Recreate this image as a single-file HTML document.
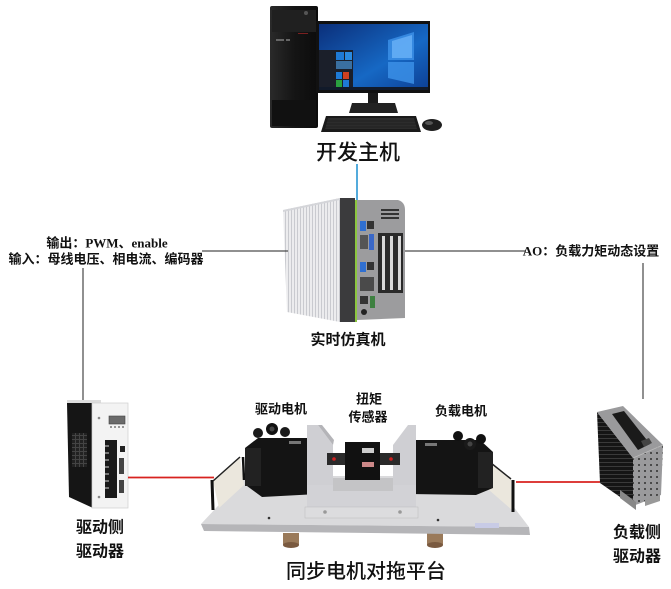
<!DOCTYPE html>
<html><head><meta charset="utf-8"><style>
html,body{margin:0;padding:0;background:#fff;}
svg{display:block;}
.t{font-family:"Liberation Sans","Noto Sans CJK SC",sans-serif;}
.s{font-family:"Liberation Serif","Noto Sans CJK SC",sans-serif;font-weight:700;}
</style></head><body>
<svg width="671" height="589" viewBox="0 0 671 589" xmlns="http://www.w3.org/2000/svg">
<defs>
<linearGradient id="scr" x1="0" y1="0" x2="1" y2="1"><stop offset="0" stop-color="#0b2f7a"/><stop offset="0.6" stop-color="#1668c4"/><stop offset="1" stop-color="#0d3f94"/></linearGradient>
<linearGradient id="tow" x1="0" y1="0" x2="1" y2="0"><stop offset="0" stop-color="#2a2a2a"/><stop offset="0.5" stop-color="#151515"/><stop offset="1" stop-color="#0c0c0c"/></linearGradient>
<pattern id="fin" width="3" height="10" patternUnits="userSpaceOnUse"><rect width="3" height="10" fill="#ececee"/><rect width="1" height="10" fill="#c9cacf"/></pattern>
<pattern id="bfin" width="4" height="4" patternUnits="userSpaceOnUse"><rect width="4" height="4" fill="#151515"/><rect y="2" width="4" height="1" fill="#3a3a3a"/></pattern>
<pattern id="grid" width="4" height="4" patternUnits="userSpaceOnUse"><rect width="4" height="4" fill="#444"/><rect width="3" height="3" fill="#222"/></pattern>
<pattern id="holes" width="6" height="6" patternUnits="userSpaceOnUse"><rect width="6" height="6" fill="#9a9a9c"/><rect x="2" y="2" width="2" height="2" fill="#4a4a4a"/></pattern>
</defs>

<!-- ===== Development host PC ===== -->
<rect x="270" y="6" width="48" height="122" rx="2" fill="url(#tow)"/>
<rect x="272" y="10" width="44" height="22" fill="#202020"/>
<circle cx="306" cy="13" r="2" fill="#555"/>
<rect x="276" y="39" width="8" height="2" fill="#666"/>
<rect x="286" y="39" width="4" height="2" fill="#666"/>
<rect x="298" y="33" width="10" height="1" fill="#7a2020"/>
<rect x="272" y="100" width="44" height="26" fill="#111"/>
<!-- monitor -->
<rect x="316" y="21" width="114" height="72" fill="#111"/>
<rect x="319" y="24" width="109" height="66" fill="url(#scr)"/>
<polygon points="388,40 414,32 414,60 388,60" fill="#3b8fe6" opacity="0.85"/>
<polygon points="388,62 414,62 414,84 388,78" fill="#3b8fe6" opacity="0.85"/>
<polygon points="392,41 412,35 412,58 392,58" fill="#7cc0ff" opacity="0.6"/>
<rect x="319" y="50" width="34" height="40" fill="#1b1f2a"/>
<rect x="336" y="52" width="8" height="8" fill="#1e7ad6"/><rect x="345" y="52" width="7" height="8" fill="#2a8ae0"/>
<rect x="336" y="61" width="16" height="8" fill="#3a6fa0"/>
<rect x="336" y="72" width="6" height="7" fill="#1e7ad6"/><rect x="343" y="72" width="6" height="7" fill="#d04020"/>
<rect x="336" y="80" width="6" height="7" fill="#2aa040"/><rect x="343" y="80" width="6" height="7" fill="#1e7ad6"/>
<rect x="319" y="87" width="109" height="3" fill="#111a2a"/>
<rect x="368" y="93" width="10" height="10" fill="#1a1a1a"/>
<polygon points="352,103 395,103 398,113 349,113" fill="#222"/>
<!-- keyboard -->
<polygon points="326,116 416,116 421,132 321,132" fill="#1a1a1a"/>
<polygon points="328,118 414,118 417,129 325,129" fill="#2c2c2c"/>
<g stroke="#151515" stroke-width="0.6">
<line x1="326" y1="121" x2="415" y2="121"/><line x1="326" y1="124" x2="416" y2="124"/><line x1="325" y1="127" x2="417" y2="127"/>
</g>
<ellipse cx="432" cy="125" rx="10" ry="6" fill="#1f1f1f"/>
<ellipse cx="429" cy="123" rx="4" ry="2" fill="#555"/>

<text class="t" x="358" y="153" font-size="21" font-weight="500" text-anchor="middle" dominant-baseline="central" fill="#111">开发主机</text>

<!-- blue link -->
<line x1="357" y1="164" x2="357" y2="202" stroke="#1a8fd0" stroke-width="1.5"/>

<!-- ===== Real-time simulator ===== -->
<polygon points="283,210 340,198 340,322 287,312" fill="url(#fin)"/>
<polygon points="283,210 340,198 340,200 283,212" fill="#d4d5d9"/>
<rect x="340" y="198" width="15" height="124" fill="#3b3b3d"/>
<rect x="355" y="200" width="2" height="122" fill="#8cc63f"/>
<path d="M357,200 L398,200 Q405,202 405,210 L405,318 L357,320 Z" fill="#9c9c9e"/>
<g fill="#333"><rect x="381" y="209" width="18" height="2"/><rect x="381" y="213" width="18" height="2"/><rect x="381" y="217" width="18" height="2"/></g>
<rect x="360" y="221" width="6" height="10" fill="#2f6fd0"/><rect x="367" y="221" width="7" height="8" fill="#333"/>
<rect x="360" y="235" width="8" height="14" fill="#555"/><rect x="369" y="234" width="5" height="16" fill="#3a68c8"/>
<rect x="360" y="262" width="6" height="10" fill="#2f6fd0"/><rect x="367" y="262" width="7" height="8" fill="#333"/>
<rect x="360" y="277" width="14" height="14" fill="#4a4a4a"/>
<rect x="360" y="296" width="8" height="8" fill="#333"/><rect x="370" y="296" width="5" height="12" fill="#3d8040"/>
<circle cx="364" cy="312" r="3" fill="#222"/>
<rect x="378" y="233" width="25" height="60" fill="#2a2a2a"/>
<rect x="382" y="236" width="3" height="54" fill="#d8d8d8"/><rect x="390" y="236" width="3" height="54" fill="#d8d8d8"/><rect x="398" y="236" width="3" height="54" fill="#d8d8d8"/>

<text class="t" x="348" y="340" font-size="15" font-weight="700" text-anchor="middle" dominant-baseline="central" fill="#111">实时仿真机</text>

<!-- connectors -->
<line x1="202" y1="251" x2="288" y2="251" stroke="#222" stroke-width="1"/>
<line x1="405" y1="251" x2="526" y2="251" stroke="#222" stroke-width="1"/>
<line x1="83" y1="268" x2="83" y2="401" stroke="#222" stroke-width="1"/>
<line x1="643" y1="263" x2="643" y2="399" stroke="#222" stroke-width="1"/>

<text class="s" x="107" y="243" font-size="13" text-anchor="middle" dominant-baseline="central" fill="#111">输出：PWM、enable</text>
<text class="s" x="106" y="259" font-size="13" text-anchor="middle" dominant-baseline="central" fill="#111">输入：母线电压、相电流、编码器</text>
<text class="s" x="591" y="251" font-size="13" text-anchor="middle" dominant-baseline="central" fill="#111">AO：负载力矩动态设置</text>

<!-- ===== Left driver ===== -->
<rect x="67" y="400" width="34" height="5" fill="#ddd"/>
<polygon points="67,403 93,403 93,508 69,497" fill="#151515"/>
<rect x="72" y="433" width="15" height="34" fill="url(#grid)"/>
<rect x="92" y="403" width="36" height="105" fill="#f3f3f3" stroke="#cfcfcf" stroke-width="0.7"/>
<rect x="109" y="416" width="16" height="8" fill="#6a6a6a" stroke="#444" stroke-width="0.6"/>
<g fill="#555"><circle cx="111" cy="427" r="0.9"/><circle cx="115" cy="427" r="0.9"/><circle cx="119" cy="427" r="0.9"/><circle cx="123" cy="427" r="0.9"/></g>
<rect x="105" y="440" width="12" height="58" fill="#1a1a1a"/>
<g fill="#777"><rect x="105" y="445" width="4" height="2"/><rect x="105" y="452" width="4" height="2"/><rect x="105" y="459" width="4" height="2"/><rect x="105" y="466" width="4" height="2"/><rect x="105" y="473" width="4" height="2"/><rect x="105" y="480" width="4" height="2"/><rect x="105" y="487" width="4" height="2"/></g>
<rect x="120" y="446" width="5" height="6" fill="#222"/>
<rect x="119" y="458" width="5" height="16" fill="#444"/>
<rect x="119" y="480" width="5" height="13" fill="#444"/>
<circle cx="99" cy="418" r="1.3" fill="#888"/><circle cx="99" cy="497" r="1.3" fill="#888"/>

<line x1="128" y1="477.5" x2="214" y2="477.5" stroke="#d8231f" stroke-width="1.8"/>
<line x1="516" y1="482" x2="600" y2="482" stroke="#d8231f" stroke-width="1.8"/>

<text class="t" x="100" y="528" font-size="16" font-weight="700" text-anchor="middle" dominant-baseline="central" fill="#111">驱动侧</text>
<text class="t" x="100" y="552" font-size="16" font-weight="700" text-anchor="middle" dominant-baseline="central" fill="#111">驱动器</text>

<!-- ===== Right driver ===== -->
<polygon points="597,412 633,458 633,506 600,483" fill="url(#bfin)"/>
<polygon points="633,458 663,445 661,495 633,506" fill="url(#holes)"/>
<polygon points="597,412 623,406 663,445 633,458" fill="#9a9a9c"/>
<polygon points="612,414 624,411 650,444 638,450" fill="#1a1a1a"/>
<polygon points="641,441 649,438 652,443 644,447" fill="#444"/>
<line x1="633" y1="458" x2="663" y2="445" stroke="#bbb" stroke-width="0.8"/>
<polygon points="620,490 636,502 636,510 620,498" fill="#888"/>
<polygon points="645,500 660,495 660,501 645,506" fill="#999"/>

<text class="t" x="637" y="533" font-size="16" font-weight="700" text-anchor="middle" dominant-baseline="central" fill="#111">负载侧</text>
<text class="t" x="637" y="557" font-size="16" font-weight="700" text-anchor="middle" dominant-baseline="central" fill="#111">驱动器</text>

<!-- ===== Platform ===== -->
<!-- feet -->
<rect x="283" y="533" width="16" height="12" fill="#9a7a5a"/>
<ellipse cx="291" cy="545" rx="8" ry="3" fill="#7a5a40"/>
<rect x="427" y="533" width="16" height="12" fill="#9a7a5a"/>
<ellipse cx="435" cy="545" rx="8" ry="3" fill="#7a5a40"/>
<!-- plate -->
<polygon points="201,524 246,476 490,476 529,527" fill="#dadadc"/>
<polygon points="201,524 529,527 530,535 204,531" fill="#b5b5b8"/>
<circle cx="269" cy="518" r="1.3" fill="#333"/><circle cx="438" cy="520" r="1.3" fill="#333"/>
<rect x="475" y="523" width="24" height="5" fill="#c8cbe6"/>
<!-- left side panel -->
<polygon points="213,481 240,457 244,485 219,508" fill="#ebe7dd"/>
<line x1="212" y1="480" x2="213" y2="510" stroke="#111" stroke-width="3"/>
<line x1="213" y1="481" x2="240" y2="457" stroke="#222" stroke-width="1.5"/>
<line x1="243" y1="457" x2="244" y2="480" stroke="#111" stroke-width="2.5"/>
<!-- right side panel -->
<polygon points="486,459 511,479 512,510 489,490" fill="#ebe7dd"/>
<line x1="486" y1="459" x2="511" y2="479" stroke="#222" stroke-width="1.5"/>
<line x1="513" y1="480" x2="513" y2="512" stroke="#111" stroke-width="3"/>
<line x1="485" y1="458" x2="485" y2="480" stroke="#111" stroke-width="2.5"/>
<!-- left motor -->
<polygon points="245,448 258,438 318,438 318,494 262,497 247,486" fill="#141414"/>
<rect x="245" y="448" width="16" height="38" fill="#222"/>
<circle cx="258" cy="433" r="5" fill="#1a1a1a"/><circle cx="272" cy="429" r="6" fill="#111"/><circle cx="285" cy="432" r="5" fill="#1a1a1a"/>
<circle cx="272" cy="429" r="2.5" fill="#444"/>
<rect x="289" y="441" width="12" height="3" fill="#777"/>
<!-- right motor -->
<polygon points="410,440 480,440 493,452 493,488 476,495 410,494" fill="#141414"/>
<rect x="478" y="452" width="15" height="36" fill="#222"/>
<circle cx="458" cy="436" r="5" fill="#111"/><circle cx="470" cy="444" r="6" fill="#1a1a1a"/><circle cx="481" cy="439" r="5" fill="#111"/>
<circle cx="470" cy="444" r="2.5" fill="#444"/>
<rect x="425" y="443" width="12" height="3" fill="#777"/>
<!-- U bracket -->
<polygon points="307,425 318,425 333,445 333,486 307,486" fill="#cfcfd3"/>
<polygon points="318,425 322,425 334,440 333,445" fill="#b4b4b8"/>
<polygon points="393,445 408,425 416,425 416,486 393,486" fill="#cfcfd3"/>
<rect x="307" y="485" width="109" height="22" fill="#d2d2d6"/>
<rect x="305" y="507" width="113" height="11" fill="#dcdcde" stroke="#bbb" stroke-width="0.5"/>
<circle cx="325" cy="512" r="1.8" fill="#999"/><circle cx="400" cy="512" r="1.8" fill="#999"/>
<!-- sensor -->
<rect x="333" y="478" width="60" height="13" fill="#c4c4c6"/>
<rect x="327" y="453" width="18" height="12" fill="#2a2a2a"/>
<rect x="380" y="453" width="20" height="12" fill="#2a2a2a"/>
<circle cx="334" cy="459" r="1.8" fill="#d02020"/><circle cx="391" cy="459" r="1.8" fill="#d02020"/>
<rect x="345" y="442" width="35" height="38" fill="#111"/>
<rect x="362" y="448" width="12" height="5" fill="#ccc"/>
<rect x="362" y="462" width="12" height="5" fill="#c88"/>

<text class="t" x="281" y="409" font-size="13" font-weight="700" text-anchor="middle" dominant-baseline="central" fill="#111">驱动电机</text>
<text class="t" x="369" y="399" font-size="13" font-weight="700" text-anchor="middle" dominant-baseline="central" fill="#111">扭矩</text>
<text class="t" x="368" y="417" font-size="13" font-weight="700" text-anchor="middle" dominant-baseline="central" fill="#111">传感器</text>
<text class="t" x="461" y="411" font-size="13" font-weight="700" text-anchor="middle" dominant-baseline="central" fill="#111">负载电机</text>

<text class="t" x="366" y="572" font-size="20" font-weight="500" text-anchor="middle" dominant-baseline="central" fill="#111">同步电机对拖平台</text>
</svg>
</body></html>
